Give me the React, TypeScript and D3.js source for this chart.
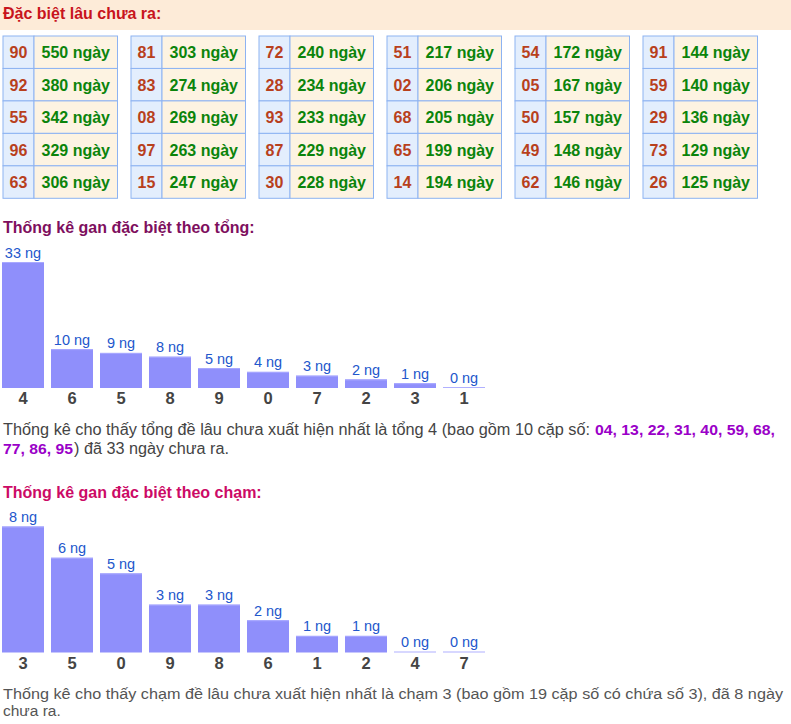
import * as d3 from "d3";

// longest-absent special pairs (read column by column)
const ganPairs = [
  "90", "92", "55", "96", "63",
  "81", "83", "08", "97", "15",
  "72", "28", "93", "87", "30",
  "51", "02", "68", "65", "14",
  "54", "05", "50", "49", "62",
  "91", "59", "29", "73", "26",
];
const ganDays = [
  550, 380, 342, 329, 306,
  303, 274, 269, 263, 247,
  240, 234, 233, 229, 228,
  217, 206, 205, 199, 194,
  172, 167, 157, 148, 146,
  144, 140, 136, 129, 125,
];

const tongCats = ["4", "6", "5", "8", "9", "0", "7", "2", "3", "1"];
const tongValues = [33, 10, 9, 8, 5, 4, 3, 2, 1, 0];

const chamCats = ["3", "5", "0", "9", "8", "6", "1", "2", "4", "7"];
const chamValues = [8, 6, 5, 3, 3, 2, 1, 1, 0, 0];

const tongPairs = "04, 13, 22, 31, 40, 59, 68,";
const tongPairs2 = "77, 86, 95";

const W = 791;
const H = 724;
const FONT = "'Liberation Sans', Arial, sans-serif";

const ROWS = 5;
const tableX = d3.scaleLinear().domain([0, 5]).range([3, 643]);
const rowY = d3.scaleBand<number>().domain(d3.range(ROWS)).range([36, 198.3]);
const numW = 31;
const tableW = 114.5;

function GanTable({ col }: { col: number }) {
  const x0 = tableX(col);
  const rows = d3.range(ROWS).map((r) => col * ROWS + r);
  return (
    <g>
      {rows.map((idx, r) => {
        const y = rowY(r) as number;
        const h = rowY.bandwidth();
        return (
          <g key={idx}>
            <rect x={x0} y={y} width={numW} height={h} fill="#e3eefd" stroke="#8db3f2" strokeWidth={1} />
            <rect x={x0 + numW} y={y} width={tableW - numW} height={h} fill="#fdf3e2" stroke="#8db3f2" strokeWidth={1} />
            <text x={x0 + numW / 2} y={y + h / 2 + 6} textAnchor="middle" fontFamily={FONT} fontSize={16} fontWeight="bold" fill="#b8401c">
              {ganPairs[idx]}
            </text>
            <text x={x0 + numW + (tableW - numW) / 2} y={y + h / 2 + 6} textAnchor="middle" fontFamily={FONT} fontSize={16} fontWeight="bold" fill="#0b840b">
              {ganDays[idx]} ngày
            </text>
          </g>
        );
      })}
    </g>
  );
}

function BarChart({ cats, values, bottom }: { cats: string[]; values: number[]; bottom: number }) {
  const x = d3.scaleBand<string>().domain(cats).range([2, 485]).paddingInner(7 / 49).paddingOuter(0);
  const max = d3.max(values) as number;
  const y = d3.scaleLinear().domain([0, max]).range([bottom - 1, bottom - 126]);
  return (
    <g>
      {cats.map((c, i) => {
        const v = values[i];
        const bx = x(c) as number;
        const top = y(v);
        return (
          <g key={c}>
            {v > 0 ? (
              <>
                <rect x={bx} y={top} width={x.bandwidth()} height={bottom - top} fill="#8f8ffb" />
                <rect x={bx} y={top} width={x.bandwidth()} height={1} fill="#a9a9ff" />
              </>
            ) : (
              <rect x={bx} y={bottom - 1} width={x.bandwidth()} height={1} fill="#b0b0ff" />
            )}
            <text x={bx + x.bandwidth() / 2} y={top - 4.5} textAnchor="middle" fontFamily={FONT} fontSize={14.5} fill="#2257cc">
              {v} ng
            </text>
            <text x={bx + x.bandwidth() / 2} y={bottom + 16} textAnchor="middle" fontFamily={FONT} fontSize={16.5} fontWeight="bold" fill="#444">
              {c}
            </text>
          </g>
        );
      })}
    </g>
  );
}

export default function App() {
  return (
    <div style={{ position: "absolute", left: 0, top: 0, width: W, height: H }}>
      <svg width={W} height={H} style={{ display: "block" }}>
        <rect x={0} y={0} width={W} height={H} fill="#fff" />
        <rect x={0} y={0} width={W} height={30} fill="#fdebd8" />
        <text x={3} y={18.5} fontFamily={FONT} fontSize={16} fontWeight="bold" fill="#c8141c">
          Đặc biệt lâu chưa ra:
        </text>

        {d3.range(6).map((c) => (
          <GanTable key={c} col={c} />
        ))}

        <text x={3} y={233} fontFamily={FONT} fontSize={16} fontWeight="bold" fill="#7e0f5e">
          Thống kê gan đặc biệt theo tổng:
        </text>
        <BarChart cats={tongCats} values={tongValues} bottom={388} />

        <text x={3} y={435} fontFamily={FONT} fontSize={16} fill="#444" textLength={587} lengthAdjust="spacingAndGlyphs">
          Thống kê cho thấy tổng đề lâu chưa xuất hiện nhất là tổng 4 (bao gồm 10 cặp số:
        </text>
        <text x={595} y={435} fontFamily={FONT} fontSize={15.5} fontWeight="bold" fill="#9a00c8" textLength={180} lengthAdjust="spacingAndGlyphs">
          {tongPairs}
        </text>
        <text x={3} y={454} fontFamily={FONT} fontSize={15} fontWeight="bold" fill="#9a00c8" textLength={70} lengthAdjust="spacingAndGlyphs">
          {tongPairs2}
        </text>
        <text x={74} y={454} fontFamily={FONT} fontSize={16} fill="#444" textLength={155} lengthAdjust="spacingAndGlyphs">
          ) đã 33 ngày chưa ra.
        </text>

        <text x={3} y={497.5} fontFamily={FONT} fontSize={16} fontWeight="bold" fill="#cc0a66">
          Thống kê gan đặc biệt theo chạm:
        </text>
        <BarChart cats={chamCats} values={chamValues} bottom={652.5} />

        <text x={3} y={698.5} fontFamily={FONT} fontSize={15.5} fill="#555" textLength={780} lengthAdjust="spacingAndGlyphs">
          Thống kê cho thấy chạm đề lâu chưa xuất hiện nhất là chạm 3 (bao gồm 19 cặp số có chứa số 3), đã 8 ngày
        </text>
        <text x={3} y={716} fontFamily={FONT} fontSize={15.5} fill="#555">
          chưa ra.
        </text>
      </svg>
    </div>
  );
}
